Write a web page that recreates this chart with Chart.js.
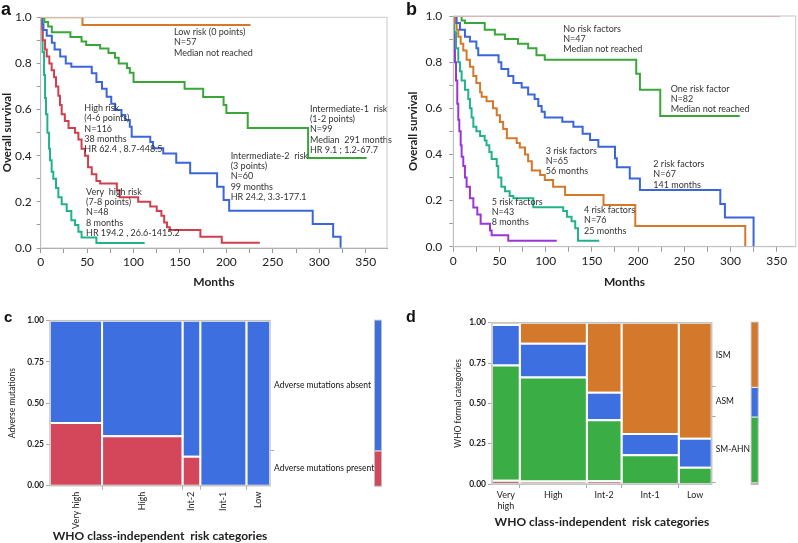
<!DOCTYPE html>
<html><head><meta charset="utf-8">
<script src="https://cdn.jsdelivr.net/npm/chart.js@4.4.1/dist/chart.umd.min.js"></script>
<style>
html,body{margin:0;padding:0;background:#fff;}
#wrap{position:relative;width:798px;height:543px;overflow:hidden;}
.pane{position:absolute;}
.tag{position:absolute;font-weight:bold;color:#111;font-family:"Liberation Sans",Arial,sans-serif;line-height:1;}
</style></head><body>
<div id="wrap">
  <div class="pane" style="left:0;top:0"><canvas id="ca" width="400" height="300"></canvas></div>
  <div class="pane" style="left:400px;top:0"><canvas id="cb" width="398" height="300"></canvas></div>
  <div class="pane" style="left:0;top:300px"><canvas id="cc" width="400" height="243"></canvas></div>
  <div class="pane" style="left:400px;top:300px"><canvas id="cd" width="398" height="243"></canvas></div>
  <div class="tag" style="left:1px;top:0px;font-size:18px">a</div>
  <div class="tag" style="left:406px;top:0px;font-size:18px">b</div>
  <div class="tag" style="left:4px;top:309px;font-size:15px">c</div>
  <div class="tag" style="left:406px;top:309px;font-size:16px">d</div>
</div>
<script>
// ---------- Panel a data (months, overall survival) ----------
const aLowMonths  = [0,45,226];
const aLowSurv    = [1,0.967,0.967];
const aInt1Months = [0,4,8,12,32,44,49,64,73,80,84,93,96,100,155,175,197,200,223,288,351];
const aInt1Surv   = [1,0.98,0.96,0.935,0.915,0.895,0.88,0.865,0.845,0.825,0.80,0.78,0.76,0.72,0.69,0.655,0.62,0.585,0.52,0.39,0.39];
const aInt2Months = [0,2,3,6.5,12,15,21,27,33,55,60,66,71,76,80,87,91,96,98,118,121,132,146,161,190,197,203,293,315,323];
const aInt2Surv   = [1,0.97,0.945,0.92,0.89,0.86,0.83,0.80,0.786,0.757,0.72,0.69,0.656,0.625,0.598,0.577,0.555,0.526,0.482,0.46,0.432,0.41,0.37,0.324,0.266,0.208,0.162,0.104,0.049,0];
const aHighMonths = [0,1,2,4.7,6.5,9.3,11.8,14.4,16.5,19,20.8,22.6,26,30,37,40.6,44,47.7,51,55,60,64,82,85,105,118,125,130,133,136,139,172,195,236];
const aHighSurv   = [1,0.95,0.90,0.86,0.83,0.80,0.77,0.74,0.70,0.66,0.62,0.58,0.55,0.52,0.50,0.47,0.43,0.40,0.35,0.32,0.29,0.28,0.25,0.22,0.20,0.18,0.16,0.14,0.11,0.09,0.078,0.049,0.023,0.023];
const aVHighMonths= [0,1,2,3.6,4.7,5.7,7.2,9,10,11.8,13.6,16.5,19,22.6,28,33,37,40.6,44,60,112];
const aVHighSurv  = [1,0.95,0.85,0.75,0.65,0.58,0.50,0.43,0.38,0.33,0.30,0.26,0.22,0.19,0.16,0.12,0.10,0.07,0.045,0.022,0.022];

// ---------- Panel b data ----------
const bNoneMonths = [0,354];
const bNoneSurv   = [1,1];
const bOneMonths  = [0,9,12.6,34,45,56,70,81,90,99,198,202,224,310];
const bOneSurv    = [1,0.98,0.97,0.94,0.92,0.90,0.88,0.86,0.83,0.81,0.75,0.68,0.567,0.567];
const bTwoMonths  = [0,3.6,7.2,12.6,18,25,27,49,52,59.5,65,74,81,88,92,95.6,99,118,130,140,148,157,175,177,191,202,289,294,325];
const bTwoSurv    = [1,0.97,0.94,0.91,0.89,0.86,0.83,0.80,0.77,0.74,0.71,0.69,0.66,0.64,0.61,0.585,0.56,0.542,0.52,0.49,0.462,0.433,0.383,0.344,0.296,0.246,0.185,0.127,0];
const bThreeMonths= [0,1.8,3.6,5.4,8,10.8,14.4,18,21.7,25,29,30.7,36,43,47,50.5,54,58,68.6,72,77.6,81,85,94,99,108,121,162.6,197,316];
const bThreeSurv  = [1,0.97,0.94,0.91,0.88,0.85,0.81,0.78,0.74,0.71,0.67,0.65,0.63,0.60,0.57,0.54,0.51,0.47,0.45,0.43,0.40,0.37,0.33,0.311,0.289,0.26,0.224,0.181,0.09,0];
const bFourMonths = [0,1,2.9,5.4,7.2,9,12.6,16.2,18,19.8,21.7,25,29,34,36,39,41.5,47,48.7,52,56,61,65,86.6,119,123,128,132,135,158];
const bFourSurv   = [1,0.93,0.86,0.80,0.76,0.72,0.68,0.64,0.60,0.56,0.52,0.50,0.48,0.46,0.44,0.41,0.38,0.35,0.30,0.26,0.24,0.22,0.21,0.171,0.155,0.13,0.11,0.08,0.026,0.026];
const bFiveMonths = [0,0.7,1.8,2.9,4.3,5.4,6.5,8,9,10.8,12.6,14.4,18,21.7,26,29.6,39.7,41.5,59.5,112];
const bFiveSurv   = [1,0.93,0.80,0.72,0.62,0.55,0.50,0.44,0.39,0.35,0.30,0.26,0.21,0.17,0.14,0.10,0.07,0.05,0.026,0.026];

// ---------- Panel c / d data (mosaic) ----------
const riskCats       = ['Very high','High','Int-2','Int-1','Low'];
const cGroupN        = [44,68,15,39,20];
const cPresentShare  = [0.38,0.30,0.175,0,0];
const cAbsentShare   = cPresentShare.map(v => 1 - v);
const cLevels        = ['Adverse mutations present','Adverse mutations absent'];

const dGroupN        = [48,116,60,99,57];
const dOtherShare    = [0.02,0.015,0.017,0,0];
const dSmAhnShare    = [0.715,0.645,0.378,0.178,0.10];
const dAsmShare      = [0.25,0.21,0.17,0.132,0.18];
const dIsmShare      = [0.015,0.13,0.435,0.69,0.72];
const dLevels        = ['','SM-AHN','ASM','ISM'];

// ---------- Annotation texts ----------
const aNotes = [
  {x:143.5, y:0.936, lines:['Low risk (0 points)','N=57','Median not reached']},
  {x:47, y:0.606, lines:['High risk','(4-6 points)','N=116','38 months','HR 62.4 , 8.7-448.5']},
  {x:290, y:0.603, lines:['Intermediate-1  risk','(1-2 points)','N=99','Median  291 months','HR 9.1 ; 1.2-67.7']},
  {x:204.6, y:0.399, lines:['Intermediate-2  risk','(3 points)','N=60','99 months','HR 24.2, 3.3-177.1']},
  {x:48.8, y:0.244, lines:['Very  high risk','(7-8 points)','N=48','8 months','HR 194.2 , 26.6-1415.2']}
];
const bNotes = [
  {x:119, y:0.944, lines:['No risk factors','N=47','Median not reached']},
  {x:235.3, y:0.684, lines:['One risk factor','N=82','Median not reached']},
  {x:100, y:0.416, lines:['3 risk factors','N=65','56 months']},
  {x:216.5, y:0.358, lines:['2 risk factors','N=67','141 months']},
  {x:41.5, y:0.195, lines:['5 risk factors','N=43','8 months']},
  {x:141.5, y:0.159, lines:['4 risk factors','N=76','25 months']}
];

const FONT = 'Lato, "Open Sans", sans-serif';
const C = {orange:'#d4792b', green:'#3aa63a', blue:'#3b66d9', red:'#cf3f4d', teal:'#20b38b', purple:'#9b35d8', pink:'#e6a3a8'};

function pts(xs, ys){ return xs.map((x,i)=>({x:x, y:ys[i]})); }

const framePlugin = {
  id:'frame',
  afterDraw(chart){
    const o = chart.config.options._frame; if(!o) return;
    const {left,top,right,bottom} = chart.chartArea; const ctx = chart.ctx;
    ctx.save(); ctx.strokeStyle = o.color; ctx.lineWidth = o.width;
    ctx.strokeRect(left, top, right-left, bottom-top);
    ctx.restore();
  }
};

function notesPlugin(notes, lh){
  return {
    id:'notes',
    afterDatasetsDraw(chart){
      const ctx = chart.ctx, xs = chart.scales.x, ys = chart.scales.y;
      ctx.save(); ctx.fillStyle = '#333'; ctx.font = '9px ' + FONT;
      ctx.textBaseline = 'middle'; ctx.textAlign = 'left';
      notes.forEach(n => {
        const px = xs.getPixelForValue(n.x), py = ys.getPixelForValue(n.y);
        n.lines.forEach((t,i) => ctx.fillText(t, px, py + i*lh));
      });
      ctx.restore();
    }
  };
}

function kmChart(id, series, L, notes, lh){
  new Chart(document.getElementById(id), {
    type:'line',
    data:{datasets: series.map(s => ({data:pts(s.m, s.s), borderColor:s.c, borderWidth:2, pointRadius:0, stepped:'before', fill:false}))},
    options:{
      responsive:false, animation:false, events:[],
      _frame:{color:'#c8c8c8', width:1},
      layout:{padding:{top:L.top, right:L.right, left:0, bottom:0}},
      plugins:{legend:{display:false}, tooltip:{enabled:false}},
      scales:{
        x:{type:'linear', min:0, max:L.xMax,
           afterFit:s=>{s.height = L.xh;},
           ticks:{stepSize:25, includeBounds:false, autoSkip:false, maxRotation:0, padding:2, color:'#222', font:{family:FONT, size:12},
                  callback:v => (v % 50 === 0 ? String(v) : '')},
           grid:{drawOnChartArea:false, tickLength:5, tickColor:'#999'},
           border:{color:'#999'},
           title:{display:true, text:'Months', color:'#222', font:{family:FONT, size:12, weight:'bold'}, padding:{top:0, bottom:L.tb}}},
        y:{type:'linear', min:0, max:1,
           afterFit:s=>{s.width = L.yw;},
           ticks:{stepSize:0.1, autoSkip:false, padding:L.yp, color:'#222', font:{family:FONT, size:12},
                  callback:v => (Math.round(v*10) % 2 === 0 ? v.toFixed(1) : '')},
           grid:{drawOnChartArea:false, tickLength:4, tickColor:'#999'},
           border:{color:'#999'},
           title:{display:true, text:'Overall survival', color:'#222', font:{family:FONT, size:11.5, weight:'bold'}, padding:{top:L.tt, bottom:0}}}
      }
    },
    plugins:[framePlugin, notesPlugin(notes, lh)]
  });
}

kmChart('ca', [
  {m:aLowMonths, s:aLowSurv, c:C.orange},
  {m:aInt1Months, s:aInt1Surv, c:C.green},
  {m:aInt2Months, s:aInt2Surv, c:C.blue},
  {m:aHighMonths, s:aHighSurv, c:C.red},
  {m:aVHighMonths, s:aVHighSurv, c:C.teal}
], {top:17.3, right:13, xMax:373, xh:52, yw:40.7, yp:5, tb:10.5, tt:0}, aNotes, 10.3);

kmChart('cb', [
  {m:bNoneMonths, s:bNoneSurv, c:C.pink},
  {m:bOneMonths, s:bOneSurv, c:C.green},
  {m:bTwoMonths, s:bTwoSurv, c:C.blue},
  {m:bThreeMonths, s:bThreeSurv, c:C.orange},
  {m:bFourMonths, s:bFourSurv, c:C.teal},
  {m:bFiveMonths, s:bFiveSurv, c:C.purple}
], {top:16, right:2.3, xMax:370.6, xh:53.3, yw:53.3, yp:7, tb:10.5, tt:6}, bNotes, 10.3);

// ---------- Mosaic ----------
function mosaicChart(id, M){
  const total = M.groupN.reduce((a,b)=>a+b,0);
  const datasets = [], xTicks = [];
  let x0 = 0;
  M.groupN.forEach((n,i) => {
    const x1 = x0 + n;
    xTicks.push({value:(x0+x1)/2, kind:'c', cat:M.cats[i]});
    if (i > 0) xTicks.push({value:x0, kind:'b'});
    let y0 = 0;
    M.stacks.forEach((sh,k) => {
      const y1 = y0 + sh[i];
      if (sh[i] > 0) datasets.push({
        data:[{x:x0,y:y0},{x:x1,y:y0},{x:x1,y:y1},{x:x0,y:y1},{x:x0,y:y0}],
        backgroundColor:M.colors[k], borderColor:'#ffffff', borderWidth:2,
        fill:'shape', pointRadius:0, tension:0
      });
      y0 = y1;
    });
    x0 = x1;
  });
  xTicks.sort((a,b)=>a.value-b.value);
  // overall (marginal) distribution for the side bar
  const marg = M.stacks.map(sh => sh.reduce((s,v,i)=>s+v*M.groupN[i],0)/total);
  const yTicks = []; let cum = 0;
  marg.forEach((m,k) => {
    if (M.levels[k]) yTicks.push({value:cum + m/2, kind:'c', cat:M.levels[k]});
    cum += m;
    if (k < marg.length-1) yTicks.push({value:cum, kind:'b'});
  });
  yTicks.sort((a,b)=>a.value-b.value);

  const sideBar = {
    id:'sidebar',
    afterDraw(chart){
      const ctx = chart.ctx, ys = chart.scales.y, a = chart.chartArea;
      const bx = a.right + M.barOffset, bw = 6;
      ctx.save();
      ctx.fillStyle = '#bdbdbd'; ctx.fillRect(bx-1, a.top-1, bw+2, a.bottom-a.top+2);
      let c0 = 0;
      marg.forEach((m,k) => {
        const c1 = c0 + m;
        const yt = ys.getPixelForValue(c1), yb = ys.getPixelForValue(c0);
        ctx.fillStyle = M.colors[k]; ctx.fillRect(bx, yt, bw, yb-yt);
        if (k < marg.length-1) { ctx.fillStyle = '#ffffff'; ctx.fillRect(bx, yt-1, bw, 2); }
        c0 = c1;
      });
      ctx.restore();
    }
  };
  const tickCol = c => (c.tick && c.tick.kind === 'b') ? '#aaaaaa' : 'rgba(0,0,0,0)';
  new Chart(document.getElementById(id), {
    type:'line',
    data:{datasets},
    options:{
      responsive:false, animation:false, events:[],
      _frame:{color:'#c4c4c4', width:1.5},
      layout:{padding:{top:M.L.top, right:0, left:0, bottom:0}},
      plugins:{legend:{display:false}, tooltip:{enabled:false}},
      scales:{
        x:{type:'linear', min:0, max:total,
           afterFit:s=>{s.height = M.L.xh;},
           afterBuildTicks:s=>{s.ticks = xTicks.map(t=>Object.assign({}, t));},
           ticks:{autoSkip:false, minRotation:M.rot, maxRotation:M.rot, padding:2, color:'#222', font:{family:FONT, size:9},
                  callback:(v,i,t)=> t[i].kind === 'c' ? (M.wrap && t[i].cat.indexOf(' ')>0 ? t[i].cat.split(' ') : t[i].cat) : ''},
           grid:{drawOnChartArea:false, tickLength:4, tickColor:tickCol},
           border:{color:'#c4c4c4'},
           title:{display:true, text:'WHO class-independent  risk categories', color:'#222', font:{family:FONT, size:12, weight:'bold'}, padding:{top:0, bottom:M.L.tb}}},
        y:{type:'linear', min:0, max:1,
           afterFit:s=>{s.width = M.L.yw;},
           ticks:{stepSize:0.25, padding:2, color:'#222', font:{family:FONT, size:8.5, weight:'bold'}, callback:v=>v.toFixed(2)},
           grid:{drawOnChartArea:false, tickLength:4, tickColor:'#aaa'},
           border:{color:'#c4c4c4'},
           title:{display:true, text:M.yTitle, color:'#222', font:{family:FONT, size:8.5}, padding:{top:M.L.tt, bottom:0}}},
        y2:{type:'linear', position:'right', min:0, max:1,
           afterFit:s=>{s.width = M.L.rw;},
           afterBuildTicks:s=>{s.ticks = yTicks.map(t=>Object.assign({}, t));},
           ticks:{autoSkip:false, padding:0, color:'#111', font:{family:FONT, size:8.5},
                  callback:(v,i,t)=> t[i].kind === 'c' ? t[i].cat : ''},
           grid:{drawOnChartArea:false, tickLength:4, tickColor:tickCol},
           border:{display:false}}
      }
    },
    plugins:[framePlugin, sideBar]
  });
}

mosaicChart('cc', {
  cats:riskCats, groupN:cGroupN, stacks:[cPresentShare, cAbsentShare],
  colors:['#d4465a','#3d6fe0'], levels:cLevels, yTitle:'Adverse mutations',
  rot:90, wrap:false, barOffset:105,
  L:{top:20.7, xh:57.3, yw:50, rw:130, tb:0, tt:7.5}
});
mosaicChart('cd', {
  cats:riskCats, groupN:dGroupN, stacks:[dOtherShare, dSmAhnShare, dAsmShare, dIsmShare],
  colors:['#b87070','#3aad44','#3d6fe0','#d4792b'], levels:dLevels, yTitle:'WHO formal categories',
  rot:0, wrap:true, barOffset:40,
  L:{top:22.7, xh:59, yw:92, rw:86.3, tb:14, tt:53}
});
</script>
</body></html>
